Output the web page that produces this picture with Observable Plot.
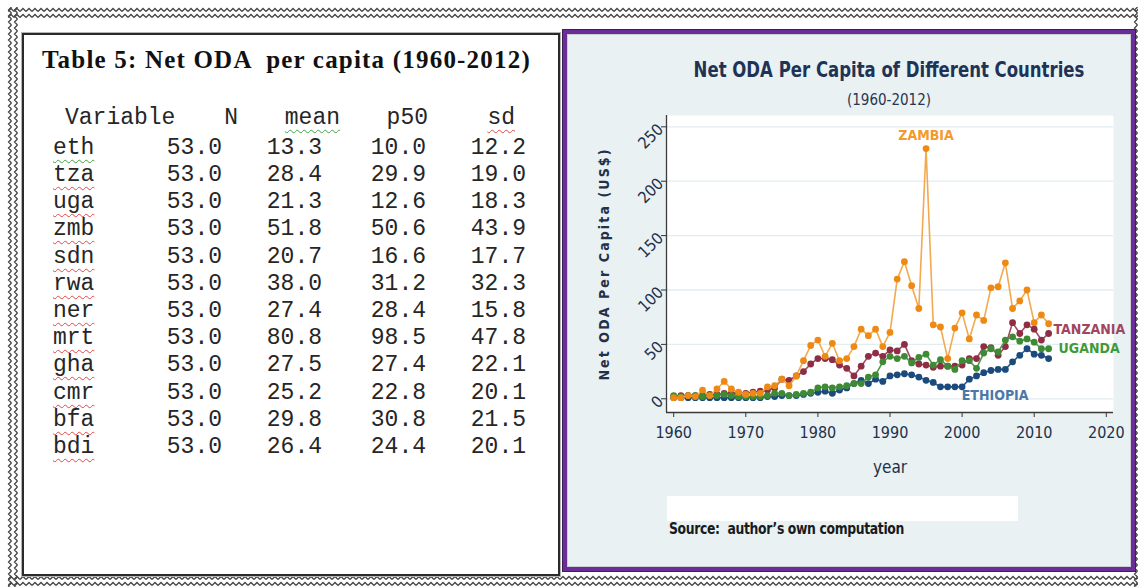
<!DOCTYPE html>
<html><head><meta charset="utf-8">
<script src="https://cdn.jsdelivr.net/npm/d3@7"></script>
<script src="https://cdn.jsdelivr.net/npm/@observablehq/plot@0.6"></script>
<style>
html,body{margin:0;padding:0;background:#fff;}
body{width:1138px;height:588px;position:relative;overflow:hidden;}
.abs{position:absolute;white-space:pre;}
.zzh{position:absolute;height:12px;background-image:url("data:image/svg+xml;utf8,<svg xmlns='http://www.w3.org/2000/svg' width='6' height='12'><path d='M0 4.5L3 1.5L6 4.5M0 10.5L3 7.5L6 10.5' fill='none' stroke='%23444' stroke-width='1.3'/></svg>");background-repeat:repeat-x;}
.zzv{position:absolute;width:12px;background-image:url("data:image/svg+xml;utf8,<svg xmlns='http://www.w3.org/2000/svg' width='12' height='6'><path d='M4.5 0L1.5 3L4.5 6M10.5 0L7.5 3L10.5 6' fill='none' stroke='%23444' stroke-width='1.3'/></svg>");background-repeat:repeat-y;}
#left{position:absolute;left:22px;top:33px;width:534px;height:539px;border:2px solid #2b2b2b;box-shadow:0 0 0 1px #b5b5b5;background:#fff;}
#right{position:absolute;left:563px;top:30px;width:564px;height:533px;border:4px solid #6b2d97;box-shadow:0 0 0 1px #3b2050, inset 0 0 0 1px #c9cfd3;background:#e9f1f3;}
.mono{font-family:"Liberation Mono","DejaVu Sans Mono",monospace;font-size:23px;line-height:23px;color:#262626;}
.sq{text-decoration:underline wavy #e04848;text-decoration-thickness:1px;text-underline-offset:5px;}
.sqg{text-decoration:underline wavy #43a047;text-decoration-thickness:1px;text-underline-offset:5px;}
.narrow{font-family:"DejaVu Sans Condensed","Liberation Sans Narrow",sans-serif;}
#chart{position:absolute;left:585px;top:110px;}
</style></head><body>
<div class="zzh" style="left:8px;top:7px;width:1130px;"></div>
<div class="zzh" style="left:8px;top:575px;width:1130px;"></div>
<div class="zzv" style="left:7px;top:7px;height:580px;"></div>
<div class="zzv" style="left:1133px;top:7px;height:580px;"></div>
<div id="left"></div>
<div id="right"></div>
<div id="chart"></div>
<script>
// ---------------- data ----------------
const years = [1960,1961,1962,1963,1964,1965,1966,1967,1968,1969,
               1970,1971,1972,1973,1974,1975,1976,1977,1978,1979,
               1980,1981,1982,1983,1984,1985,1986,1987,1988,1989,
               1990,1991,1992,1993,1994,1995,1996,1997,1998,1999,
               2000,2001,2002,2003,2004,2005,2006,2007,2008,2009,
               2010,2011,2012];
const zambia   = [1,1,3,2,8,3,9,16,9,6, 4,5,5,11,12,18,12,21,35,49, 54,39,51,35,37,48,64,58,64,48,
                  61,110,126,104,83,230,68,66,37,65, 79,55,77,72,102,103,125,83,90,100, 70,77,69];
const tanzania = [2,3,3,3,3,4,4,5,5,5, 5,6,7,8,10,18,17,21,25,32, 37,37,36,31,28,21,30,39,42,39,
                  45,44,50,35,32,31,29,30,30,30, 31,37,37,48,47,40,48,70,60,68, 64,54,60];
const uganda   = [3,2,3,3,2,3,3,4,3,2, 2,2,2,3,5,5,3,4,5,6, 10,11,10,11,12,14,14,20,22,34,
                  39,37,39,33,38,41,31,36,30,27, 35,35,28,42,46,43,54,57,53,55, 52,46,46];
const ethiopia = [1,1,1,1,1,1,1,1,1,1, 1,1,1,2,2,3,3,3,4,5, 6,7,5,8,10,14,17,14,18,16,
                  21,22,23,22,20,17,15,11,11,11, 11,18,21,24,26,27,27,34,40,46, 41,40,37];
const seriesNames = ["ETHIOPIA","TANZANIA","UGANDA","ZAMBIA"];
const yTicks = [0,50,100,150,200,250];
const xTicks = [1960,1970,1980,1990,2000,2010,2020];

const tableHeader = ["Variable","N","mean","p50","sd"];
const tableVars = ["eth","tza","uga","zmb","sdn","rwa","ner","mrt","gha","cmr","bfa","bdi"];
const tableN    = [53.0,53.0,53.0,53.0,53.0,53.0,53.0,53.0,53.0,53.0,53.0,53.0];
const tableMean = [13.3,28.4,21.3,51.8,20.7,38.0,27.4,80.8,27.5,25.2,29.8,26.4];
const tableP50  = [10.0,29.9,12.6,50.6,16.6,31.2,28.4,98.5,27.4,22.8,30.8,24.4];
const tableSd   = [12.2,19.0,18.3,43.9,17.7,32.3,15.8,47.8,22.1,20.1,21.5,20.1];

// ---------------- text helpers ----------------
function put(html, cls, left, centerY, fs, extra = "", right = null) {
  const d = document.createElement("div");
  d.className = "abs " + cls;
  d.innerHTML = html;
  d.style.top = (centerY - 0.44 * fs) + "px";
  if (right !== null) { d.style.right = (1138 - right) + "px"; } else d.style.left = left + "px";
  d.style.cssText += extra;
  document.body.appendChild(d);
  return d;
}

// table title
put("Table 5: Net ODA  per capita (1960-2012)", "", 42, 58, 25,
  "font-family:'Liberation Serif','DejaVu Serif',serif;font-weight:bold;font-size:25px;line-height:25px;color:#111;letter-spacing:1.2px;");
// header
const hdrRight = [null, 238, 340, 428, 515];
tableHeader.forEach((h, i) => {
  const cls = "mono" + (h === "mean" ? " sqg" : h === "sd" ? " sq" : "");
  if (i === 0) put(h, cls, 65, 117, 23);
  else put(h, cls, 0, 117, 23, "", hdrRight[i]);
});
tableVars.forEach((v, r) => {
  const cy = 147 + r * 27.2;
  put(v, "mono " + (v === "eth" ? "sqg" : "sq"), 53, cy, 23);
  put(tableN[r].toFixed(1), "mono", 0, cy, 23, "", 222);
  put(tableMean[r].toFixed(1), "mono", 0, cy, 23, "", 322);
  put(tableP50[r].toFixed(1), "mono", 0, cy, 23, "", 426);
  put(tableSd[r].toFixed(1), "mono", 0, cy, 23, "", 526);
});

// chart titles
const t = document.createElement("div");
t.className = "abs narrow";
t.style.cssText += "left:589px;width:600px;text-align:center;top:60px;font-size:21px;font-weight:bold;color:#1f3356;line-height:21px;transform:scaleX(0.875);transform-origin:center;";
t.textContent = "Net ODA Per Capita of Different Countries";
document.body.appendChild(t);
const st = document.createElement("div");
st.className = "abs narrow";
st.style.cssText += "left:589px;width:600px;text-align:center;top:93px;font-size:15px;color:#2a3550;line-height:15px;";
st.textContent = "(1960-2012)";
document.body.appendChild(st);
// source box
const sb = document.createElement("div");
sb.style.cssText = "position:absolute;left:667px;top:496px;width:351px;height:25px;background:#fff;";
document.body.appendChild(sb);
const src = document.createElement("div");
src.className = "abs narrow";
src.style.cssText += "left:669px;top:522px;font-size:15px;line-height:15px;color:#1a1a1a;font-weight:bold;letter-spacing:-0.4px;transform:scaleX(0.92);transform-origin:left center;";
src.textContent = "Source:  author\u2019s own computation";
document.body.appendChild(src);

// ---------------- chart ----------------
const colors = {ETHIOPIA: "#1b4a7c", TANZANIA: "#8f2d45", UGANDA: "#3f8a35", ZAMBIA: "#ee8a14"};
const lineColors = {ETHIOPIA: "#2d5a8a", TANZANIA: "#a04a60", UGANDA: "#55984b", ZAMBIA: "#f3a94f"};
const labelColors = {ETHIOPIA: "#4a78a8", TANZANIA: "#a2455f", UGANDA: "#3f9a3a", ZAMBIA: "#f39a2a"};
const valuesBy = {ETHIOPIA: ethiopia, TANZANIA: tanzania, UGANDA: uganda, ZAMBIA: zambia};
const rows = seriesNames.flatMap(n => years.map((yr, i) => ({country: n, year: yr, value: valuesBy[n][i]})));

const drawOrder = ["ETHIOPIA", "TANZANIA", "UGANDA", "ZAMBIA"];
const seriesMarks = drawOrder.flatMap(n => {
  const d = rows.filter(r => r.country === n);
  return [
    Plot.line(d, {x: "year", y: "value", stroke: lineColors[n], strokeWidth: 1.6}),
    Plot.dot(d, {x: "year", y: "value", fill: colors[n], r: 3.4, stroke: null})
  ];
});

// label anchors derived from data points
const zmax = d3.greatest(rows.filter(r => r.country === "ZAMBIA"), r => r.value);
const last = n => rows.filter(r => r.country === n).at(-1);
const eth2005 = rows.find(r => r.country === "ETHIOPIA" && r.year === 2005);
const lab = (p, name, opts) => Plot.text([p], {x: "year", y: "value", text: () => name, fill: labelColors[name],
  fontSize: 14, fontWeight: "bold", ...opts});

const plot = Plot.plot({
  width: 545, height: 370,
  marginLeft: 81, marginRight: 17, marginTop: 5, marginBottom: 68,
  x: {domain: [1959, 2021]},
  y: {domain: [-12.6, 260.4]},
  style: {background: "transparent", fontFamily: "'DejaVu Sans Condensed','Liberation Sans Narrow',sans-serif", fontSize: "16px", color: "#22304a"},
  marks: [
    Plot.frame({fill: "white", stroke: null}),
    Plot.gridY(yTicks, {stroke: "#e2edf0", strokeOpacity: 1, strokeWidth: 1.3}),
    Plot.axisY({ticks: yTicks, tickSize: 5, tickPadding: 1, tickRotate: -45, stroke: "#333",
      label: "Net ODA Per Capita (US$)", labelAnchor: "center", labelArrow: "none", labelOffset: 67}),
    Plot.axisX({ticks: xTicks, tickFormat: d => String(d), tickSize: 5, tickPadding: 9, stroke: "#333",
      label: "year", labelAnchor: "center", labelArrow: "none", labelOffset: 60}),
    Plot.ruleX([1959], {stroke: "#3a3a3a", strokeWidth: 1.3}),
    Plot.ruleY([-12.6], {stroke: "#3a3a3a", strokeWidth: 1.3}),
    ...seriesMarks,
    lab(zmax, "ZAMBIA", {dy: -13}),
    lab(last("TANZANIA"), "TANZANIA", {textAnchor: "start", dx: 5, dy: -4}),
    lab(last("UGANDA"), "UGANDA", {textAnchor: "start", dx: 10, dy: 0}),
    lab(eth2005, "ETHIOPIA", {dx: -3, dy: 26})
  ]
});
document.getElementById("chart").appendChild(plot);
// style axis labels
plot.querySelectorAll('[aria-label="y-axis label"] text').forEach(e => { e.style.letterSpacing = "2.1px"; e.style.fontWeight = "bold"; e.style.fontSize = "14px"; });
plot.querySelectorAll('[aria-label="x-axis label"] text').forEach(e => { e.style.fontSize = "17px"; });
plot.querySelectorAll('[aria-label="x-axis tick label"] text, [aria-label="y-axis tick label"] text').forEach(e => { e.style.fontSize = "16px"; });
</script>
</body></html>
